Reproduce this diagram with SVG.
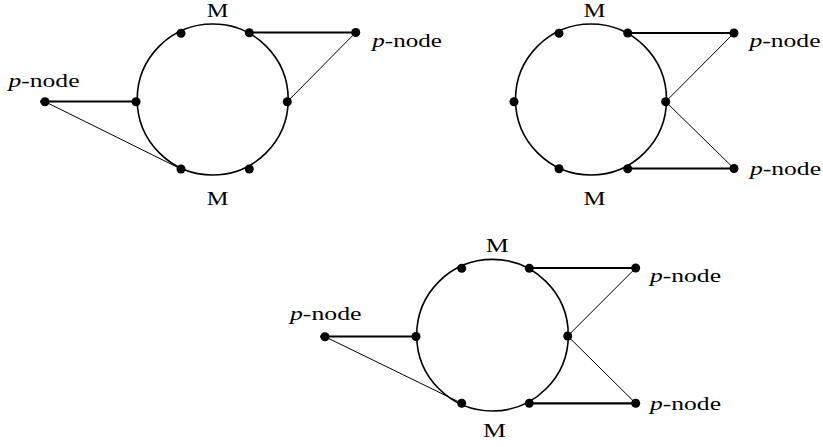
<svg xmlns="http://www.w3.org/2000/svg" width="823" height="447" viewBox="0 0 823 447">
<style>
.ring{fill:none;stroke:#000;stroke-width:1.6}
.thick{stroke:#000;stroke-width:2.2;fill:none}
.thin{stroke:#000;stroke-width:1;fill:none}
.dot{fill:#000}
text{font-family:"Liberation Serif","Times New Roman",serif;font-size:18px;fill:#000}
.it{font-style:italic}
</style>
<rect width="823" height="447" fill="#fff"/>
<g id="connectors">
<line class="thick" x1="40" y1="101.5" x2="136" y2="101.5"/>
<line class="thin" x1="45" y1="101.7" x2="181" y2="169"/>
<line class="thick" x1="249.3" y1="32.5" x2="355.7" y2="32.5"/>
<line class="thin" x1="355.7" y1="32.5" x2="287.3" y2="101.7"/>
<line class="thick" x1="627.7" y1="33" x2="734" y2="33"/>
<line class="thin" x1="734" y1="33" x2="665.7" y2="101.7"/>
<line class="thin" x1="665.7" y1="101.7" x2="734" y2="168.5"/>
<line class="thick" x1="627.7" y1="168.5" x2="734" y2="168.5"/>
<line class="thick" x1="320" y1="336.5" x2="416" y2="336.5"/>
<line class="thin" x1="325" y1="336.7" x2="461.7" y2="403.3"/>
<line class="thick" x1="529.3" y1="268" x2="635.7" y2="268"/>
<line class="thin" x1="635.7" y1="268" x2="567.7" y2="336"/>
<line class="thin" x1="567.7" y1="336" x2="635.7" y2="403.3"/>
<line class="thick" x1="529.3" y1="403.3" x2="635.7" y2="403.3"/>
</g>
<g id="diagram1">
<circle class="ring" cx="212.7" cy="99.5" r="75.5"/>
<circle class="dot" cx="181" cy="33.3" r="4.5"/>
<circle class="dot" cx="249.3" cy="32.7" r="4.5"/>
<circle class="dot" cx="136" cy="101.7" r="4.5"/>
<circle class="dot" cx="287.3" cy="101.7" r="4.5"/>
<circle class="dot" cx="181" cy="169" r="4.5"/>
<circle class="dot" cx="249.3" cy="169" r="4.5"/>
<circle class="dot" cx="355.7" cy="32.5" r="4.5"/>
<circle class="dot" cx="45" cy="101.7" r="4.5"/>
<text x="206.7" y="16.7" textLength="21.7" lengthAdjust="spacingAndGlyphs">M</text>
<text x="206.7" y="205" textLength="21.7" lengthAdjust="spacingAndGlyphs">M</text>
<text x="372.3" y="46.7" textLength="69.5" lengthAdjust="spacingAndGlyphs"><tspan class="it">p</tspan>-node</text>
<text x="8.5" y="86.7" textLength="71" lengthAdjust="spacingAndGlyphs"><tspan class="it">p</tspan>-node</text>
</g>
<g id="diagram2">
<circle class="ring" cx="591" cy="99.5" r="75.5"/>
<circle class="dot" cx="559" cy="33.3" r="4.5"/>
<circle class="dot" cx="627.7" cy="33" r="4.5"/>
<circle class="dot" cx="514" cy="101.7" r="4.5"/>
<circle class="dot" cx="665.7" cy="101.7" r="4.5"/>
<circle class="dot" cx="559" cy="168.7" r="4.5"/>
<circle class="dot" cx="627.7" cy="168.7" r="4.5"/>
<circle class="dot" cx="734" cy="33" r="4.5"/>
<circle class="dot" cx="734" cy="168.5" r="4.5"/>
<text x="583.5" y="16.7" textLength="22" lengthAdjust="spacingAndGlyphs">M</text>
<text x="583.5" y="205" textLength="22" lengthAdjust="spacingAndGlyphs">M</text>
<text x="749.5" y="46.7" textLength="71" lengthAdjust="spacingAndGlyphs"><tspan class="it">p</tspan>-node</text>
<text x="750" y="175" textLength="71" lengthAdjust="spacingAndGlyphs"><tspan class="it">p</tspan>-node</text>
</g>
<g id="diagram3">
<circle class="ring" cx="492.5" cy="335.2" r="75.8"/>
<circle class="dot" cx="461.7" cy="268.3" r="4.5"/>
<circle class="dot" cx="529.3" cy="268.3" r="4.5"/>
<circle class="dot" cx="416" cy="336.5" r="4.5"/>
<circle class="dot" cx="567.7" cy="336" r="4.5"/>
<circle class="dot" cx="461.7" cy="403.3" r="4.5"/>
<circle class="dot" cx="529.3" cy="403.3" r="4.5"/>
<circle class="dot" cx="635.7" cy="268" r="4.5"/>
<circle class="dot" cx="635.7" cy="403.3" r="4.5"/>
<circle class="dot" cx="325" cy="336.7" r="4.5"/>
<text x="485.7" y="251.7" textLength="23" lengthAdjust="spacingAndGlyphs">M</text>
<text x="483" y="436.7" textLength="23" lengthAdjust="spacingAndGlyphs">M</text>
<text x="650" y="281.7" textLength="71" lengthAdjust="spacingAndGlyphs"><tspan class="it">p</tspan>-node</text>
<text x="650" y="409.5" textLength="71" lengthAdjust="spacingAndGlyphs"><tspan class="it">p</tspan>-node</text>
<text x="290" y="320" textLength="71.5" lengthAdjust="spacingAndGlyphs"><tspan class="it">p</tspan>-node</text>
</g>
</svg>
